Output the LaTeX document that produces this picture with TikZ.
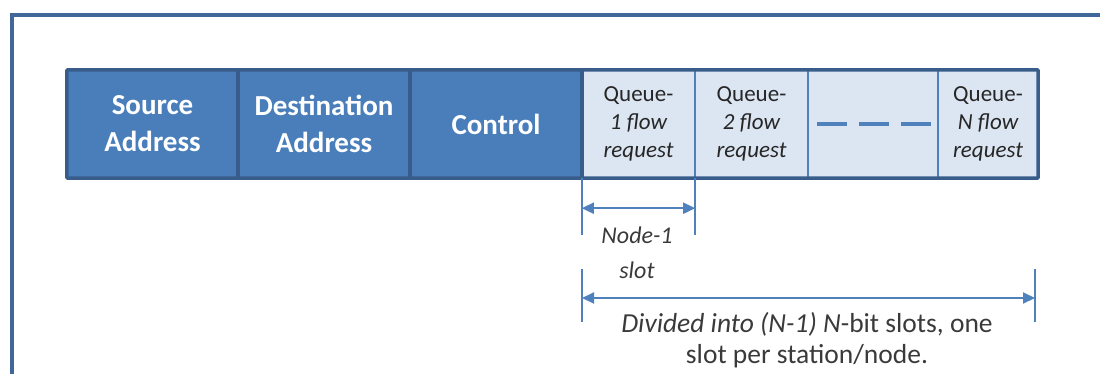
\documentclass[tikz,border=0pt]{standalone}
\usepackage{fontspec}
\setmainfont{Carlito}
\usetikzlibrary{arrows.meta,calc}
\definecolor{frameblue}{HTML}{41669A}
\definecolor{darkfill}{HTML}{4A7EBB}
\definecolor{darkline}{HTML}{385D8A}
\definecolor{lightfill}{HTML}{DCE6F2}
\definecolor{midblue}{HTML}{4F81BD}
\definecolor{txtgray}{HTML}{262626}
\definecolor{dimgray}{HTML}{3A3A3A}
\tikzset{
  darkcell/.style={fill=darkfill, draw=none, minimum height=108pt, inner sep=0pt, text=white, align=center,
    font=\fontsize{29}{37}\selectfont\bfseries},
  lightcell/.style={fill=lightfill, draw=none, minimum height=108pt, inner sep=0pt, text=txtgray, align=center,
    font=\fontsize{23}{28}\selectfont},
  darkdiv/.style={draw=darkline, line width=3.5pt},
  lightdiv/.style={draw=midblue, line width=1.5pt},
  dimtick/.style={draw=midblue, line width=1.5pt},
  dimarrow/.style={draw=midblue, line width=2pt, {Triangle[length=12pt,width=11pt]}-{Triangle[length=12pt,width=11pt]}},
  dimtext/.style={text=dimgray, align=center, inner sep=0pt},
}
\begin{document}
\begin{tikzpicture}[x=1pt,y=-1pt]
\useasboundingbox (0,0) rectangle (1100,374);
% outer frame
\draw[frameblue, line width=4pt] (12,380) -- (12,15) -- (1110,15);
% cells
\node[darkcell, minimum width=171pt] (src) at (152.5,124) {Source\\Address};
\node[darkcell, minimum width=172pt] (dst) at (324,124) {Destination\\Address};
\node[darkcell, minimum width=172pt] (ctl) at (496,124) {Control};
\node[lightcell, minimum width=113pt] (q1) at (638.5,124) {Queue-\\\itshape 1 flow\\\itshape request};
\node[lightcell, minimum width=113pt] (q2) at (751.5,124) {Queue-\\\itshape 2 flow\\\itshape request};
\node[lightcell, minimum width=130pt] (qd) at (873,124) {};
\node[lightcell, minimum width=100pt] (qn) at (988,124) {Queue-\\\itshape N flow\\\itshape request};
% dashes
\draw[midblue, line width=4pt, dash pattern=on 30pt off 12pt] ($(qd.west)+(9,0)$) -- ($(qd.east)+(-6,0)$);
% dividers
\draw[lightdiv] (q1.north east) -- (q1.south east);
\draw[lightdiv] (q2.north east) -- (q2.south east);
\draw[lightdiv] (qd.north east) -- (qd.south east);
\draw[darkdiv] (src.north east) -- (src.south east);
\draw[darkdiv] (dst.north east) -- (dst.south east);
\draw[darkdiv] (ctl.north east) -- (ctl.south east);
% outer border
\draw[darkdiv, rounded corners=1pt] (src.north west) rectangle (qn.south east);
% Node-1 slot dimension
\coordinate (t1a) at ($(q1.south west)+(0,57)$);
\coordinate (t1b) at ($(q1.south east)+(0,57)$);
\draw[dimtick] (q1.south west) -- (t1a);
\draw[dimtick] (q1.south east) -- (t1b);
\coordinate (a1l) at ($(q1.south west)+(0,30)$);
\coordinate (a1r) at ($(q1.south east)+(0,30)$);
\draw[dimarrow] (a1l) -- (a1r);
\node[dimtext, font=\fontsize{24}{35}\selectfont\itshape] (lab1) at (637,253) {Node-1\\slot};
% full dimension
\coordinate (t2l) at (582,269);
\coordinate (t2lb) at (582,322);
\coordinate (t2r) at (1035,269);
\coordinate (t2rb) at (1035,322);
\draw[dimtick] (t2l) -- (t2lb);
\draw[dimtick] (t2r) -- (t2rb);
\coordinate (a2l) at (582,298);
\coordinate (a2r) at (1035,298);
\draw[dimarrow] (a2l) -- (a2r);
\node[dimtext, font=\fontsize{27.5}{31}\selectfont] (lab2) at (807,340) {\textit{Divided into (N-1) N}-bit slots, one\\slot per station/node.};
\end{tikzpicture}
\end{document}
